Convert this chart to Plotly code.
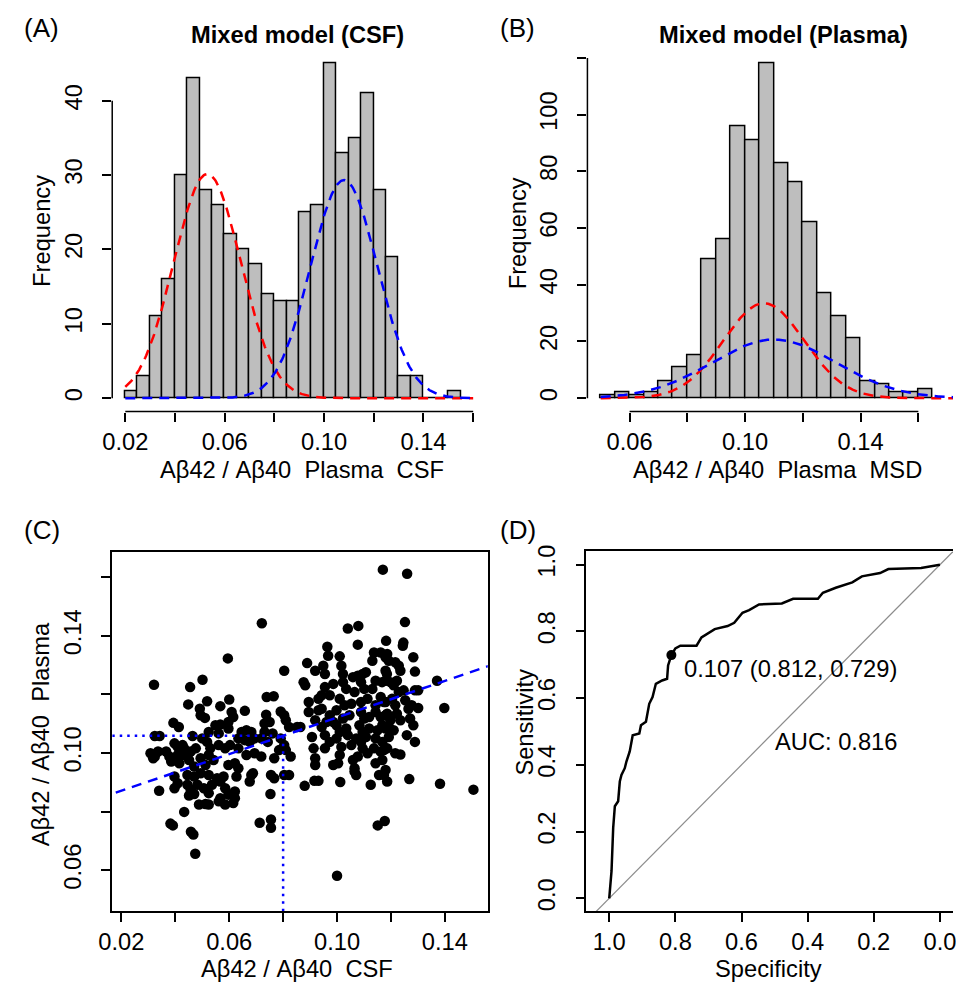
import numpy as np
import plotly.graph_objects as go

W, H = 956, 982
FONT = "Liberation Sans, Arial, Helvetica, sans-serif"
BAR_FILL = "#BEBEBE"
FS = 23.7

# ---------------- (A) CSF ratio histogram + two-component mixture ----------------
bin_width = 0.005
csf_bin_start = 0.02
csf_counts = [1, 3, 11, 16, 30, 43, 28, 26, 22, 20, 18, 14, 13, 13,
              25, 26, 45, 33, 35, 41, 28, 19, 3, 3, 0, 0, 1]
csf_comp_mean = [0.053, 0.108]      # red (low), blue (high)
csf_comp_sd = [0.0135, 0.0134]
csf_comp_n = [204, 197]

# ---------------- (B) plasma ratio histogram + mixture ----------------
plasma_bin_start = 0.05
plasma_counts = [1, 2, 1, 2, 6, 11, 15, 49, 56, 96, 91, 118, 83, 76,
                 62, 37, 29, 21, 6, 5, 2, 2, 3]
plasma_comp_mean = [0.1065, 0.110]
plasma_comp_sd = [0.0140, 0.0215]
plasma_comp_n = [235, 223]

# ---------------- (C) CSF vs plasma scatter ----------------
csf_ratio = [
    0.117, 0.126, 0.0721, 0.1252, 0.104, 0.1079, 0.1182, 0.1246, 0.1244, 0.0964,
    0.1077, 0.0595, 0.0321, 0.0804, 0.0501, 0.0455, 0.1371, 0.1398, 0.1382, 0.1506,
    0.100, 0.1151, 0.1177, 0.0474, 0.0458, 0.0467, 0.0382, 0.0391, 0.0433, 0.0713,
    0.0755, 0.0755, 0.0753, 0.088, 0.0916, 0.0931, 0.1012, 0.1268, 0.034,
    0.0448, 0.0518, 0.0491, 0.0494, 0.051, 0.0393, 0.0413, 0.0324, 0.0342, 0.0464,
    0.050, 0.0397, 0.0409, 0.0427, 0.0308, 0.0318, 0.0336, 0.0366, 0.0378, 0.0324,
    0.0409, 0.0433, 0.0457, 0.0451, 0.0476, 0.0433, 0.0385, 0.0415, 0.0494, 0.0512,
    0.047, 0.0397, 0.0445, 0.047, 0.0494, 0.0397, 0.0409, 0.0445, 0.0457, 0.0482,
    0.0506, 0.0451, 0.047, 0.0488, 0.0512,
    0.0567, 0.060, 0.0609, 0.0615, 0.0597, 0.0658, 0.0739, 0.0765, 0.0737, 0.0791,
    0.0804, 0.075, 0.0549, 0.0567, 0.0731, 0.081, 0.0822, 0.0864, 0.0524, 0.0561,
    0.0597, 0.0646, 0.0664, 0.0682, 0.0634, 0.0658, 0.0676, 0.0694, 0.0731, 0.0761,
    0.0719, 0.0743, 0.0791, 0.0804, 0.081, 0.0785, 0.0518, 0.053, 0.0561, 0.0585,
    0.0603, 0.0634, 0.0664, 0.0694, 0.0719, 0.0767, 0.0828, 0.0524, 0.0542, 0.0597,
    0.0621, 0.0634, 0.0524, 0.0555, 0.0579, 0.0627, 0.0682, 0.0676, 0.0688, 0.0755,
    0.0767, 0.0804, 0.0822, 0.0536, 0.0567, 0.0585, 0.0621, 0.0524, 0.0567, 0.0597,
    0.0621, 0.0585, 0.0615, 0.0524, 0.0561,
    0.0967, 0.101, 0.0889, 0.0919, 0.0949, 0.0955, 0.1016, 0.1022, 0.1059, 0.1095,
    0.1137, 0.1131, 0.1162, 0.118, 0.0876, 0.0882, 0.0986, 0.1022, 0.1077, 0.1089,
    0.1107, 0.1143, 0.1167, 0.1185, 0.0955, 0.0943, 0.0973, 0.1034, 0.1065, 0.1101,
    0.1131, 0.0895, 0.0931, 0.0943, 0.101, 0.1028, 0.0998, 0.1053, 0.1089, 0.1113,
    0.1162, 0.118, 0.1143, 0.0895, 0.0931, 0.0973, 0.1022, 0.0986, 0.1046, 0.1089,
    0.1101, 0.1119, 0.1143, 0.1162, 0.1186, 0.0919, 0.0943, 0.0961, 0.0998, 0.1034,
    0.101, 0.1083, 0.1095, 0.1119, 0.115, 0.1168, 0.1192, 0.0907, 0.0955, 0.0973,
    0.0998, 0.104, 0.1071, 0.1089, 0.1107, 0.1143, 0.1168, 0.1192, 0.0913, 0.0955,
    0.1016, 0.1053, 0.1095, 0.1113, 0.1137, 0.1162, 0.1186, 0.0919, 0.0919, 0.1004,
    0.101, 0.1059, 0.1065, 0.1077, 0.1143, 0.1168, 0.1174, 0.1156, 0.1125, 0.1186,
    0.0852, 0.1065, 0.1071, 0.0986,
    0.1186, 0.1192, 0.1216, 0.1229, 0.1235, 0.1283, 0.1289, 0.118, 0.118, 0.1198,
    0.121, 0.1222, 0.1289, 0.1301, 0.1174, 0.1204, 0.1229, 0.1247, 0.1216, 0.1253,
    0.1265, 0.1277, 0.1301, 0.118, 0.1198, 0.1222, 0.1235, 0.1271, 0.1283, 0.118,
    0.121, 0.1259, 0.1289, 0.1174, 0.1216, 0.1235, 0.118,
]
plasma_ratio = [
    0.1626, 0.1612, 0.1443, 0.1447, 0.1425, 0.1434, 0.1383, 0.1377, 0.1366, 0.1363,
    0.137, 0.1323, 0.1233, 0.1281, 0.125, 0.1225, 0.1247, 0.1154, 0.0895, 0.0875,
    0.0581, 0.0753, 0.0768, 0.0656, 0.0731, 0.0722, 0.0759, 0.0753, 0.0799, 0.0762,
    0.0773, 0.0745, 0.086, 0.0888, 0.0905, 0.0905, 0.0901, 0.0911, 0.0871,
    0.1166, 0.1177, 0.1151, 0.1129, 0.112, 0.1103, 0.1089, 0.1058, 0.1058, 0.1058,
    0.105, 0.1033, 0.1021, 0.1027, 0.0999, 0.0982, 0.1005, 0.1005, 0.0988, 0.0988,
    0.0993, 0.0993, 0.1005, 0.0976, 0.1016, 0.1016, 0.0971, 0.0965, 0.0982, 0.0959,
    0.0954, 0.092, 0.0925, 0.092, 0.0931, 0.088, 0.0897, 0.0892, 0.0875, 0.0892,
    0.088, 0.0855, 0.086, 0.0824, 0.0826,
    0.116, 0.1183, 0.114, 0.1123, 0.1106, 0.1144, 0.1191, 0.1194, 0.1131, 0.1142,
    0.1129, 0.1106, 0.1095, 0.1097, 0.1101, 0.1112, 0.1089, 0.1089, 0.1072, 0.1067,
    0.1084, 0.1072, 0.1078, 0.1072, 0.105, 0.1044, 0.1038, 0.105, 0.1072, 0.1067,
    0.105, 0.1038, 0.105, 0.1027, 0.101, 0.101, 0.1038, 0.1016, 0.1027, 0.1016,
    0.1027, 0.1016, 0.0993, 0.0999, 0.0988, 0.0982, 0.0988, 0.0993, 0.0976, 0.0959,
    0.0965, 0.0948, 0.0925, 0.0914, 0.092, 0.092, 0.0925, 0.0903, 0.0931, 0.0925,
    0.0914, 0.0925, 0.0925, 0.0892, 0.0903, 0.088, 0.0869, 0.0863, 0.0846, 0.0858,
    0.0846, 0.0824, 0.0829, 0.0824, 0.0835,
    0.1332, 0.133, 0.1307, 0.1281, 0.1298, 0.127, 0.1298, 0.127, 0.1259, 0.127,
    0.1343, 0.1315, 0.1343, 0.1327, 0.1242, 0.1231, 0.1236, 0.1242, 0.1264, 0.1242,
    0.1276, 0.1247, 0.1242, 0.127, 0.1225, 0.1197, 0.1197, 0.1219, 0.1208, 0.1219,
    0.1219, 0.1174, 0.1185, 0.1151, 0.1185, 0.1163, 0.1146, 0.1168, 0.1174, 0.1185,
    0.1191, 0.1174, 0.1163, 0.114, 0.1146, 0.1129, 0.1118, 0.1106, 0.1129, 0.114,
    0.1118, 0.1123, 0.114, 0.1123, 0.1134, 0.1112, 0.1089, 0.1106, 0.1095, 0.1084,
    0.1072, 0.1095, 0.1072, 0.1084, 0.1078, 0.1095, 0.1089, 0.1055, 0.1061, 0.1038,
    0.105, 0.1061, 0.105, 0.1038, 0.1055, 0.105, 0.1038, 0.1055, 0.1016, 0.1016,
    0.1021, 0.1027, 0.1016, 0.0999, 0.1016, 0.1005, 0.1016, 0.0959, 0.0982, 0.0965,
    0.0993, 0.0976, 0.0948, 0.0988, 0.0965, 0.0976, 0.0925, 0.0925, 0.0892, 0.0903,
    0.1089, 0.0937, 0.0925, 0.0959,
    0.1338, 0.1315, 0.131, 0.1298, 0.1281, 0.1327, 0.1278, 0.1281, 0.1247, 0.1242,
    0.1231, 0.1247, 0.1214, 0.1214, 0.1174, 0.1185, 0.1208, 0.1214, 0.1163, 0.118,
    0.1151, 0.1163, 0.1154, 0.1129, 0.1112, 0.1134, 0.1112, 0.1118, 0.1095, 0.1084,
    0.1078, 0.1061, 0.1038, 0.101, 0.0999, 0.0995, 0.0942,
]
reg_intercept = 0.0809
reg_slope = 0.3123
csf_cutoff = 0.08

# ---------------- (D) ROC curve ----------------
specificity = [1.0, 0.993, 0.988, 0.983, 0.973, 0.968, 0.963, 0.953, 0.948, 0.938,
               0.929, 0.909, 0.904, 0.889, 0.879, 0.869, 0.859, 0.840, 0.825, 0.822,
               0.812, 0.800, 0.785, 0.736, 0.721, 0.701, 0.681, 0.642, 0.622, 0.597,
               0.577, 0.547, 0.478, 0.444, 0.369, 0.354, 0.315, 0.265, 0.236, 0.181,
               0.156, 0.057, 0.028, 0.0]
sensitivity = [0.0, 0.082, 0.211, 0.276, 0.291, 0.350, 0.370, 0.390, 0.410, 0.440,
               0.489, 0.494, 0.519, 0.529, 0.583, 0.603, 0.643, 0.653, 0.658, 0.698,
               0.729, 0.749, 0.757, 0.757, 0.782, 0.794, 0.807, 0.816, 0.826, 0.856,
               0.864, 0.881, 0.884, 0.898, 0.898, 0.916, 0.931, 0.947, 0.965, 0.975,
               0.987, 0.990, 0.995, 1.0]
best_threshold = 0.107
best_spec = 0.812
best_sens = 0.729
auc_value = 0.816


def px_x(px):
    return px / W


def px_y(py):
    return 1 - py / H


def mixture_curve(means, sds, ns, lo, hi):
    xs = np.linspace(lo, hi, 400)
    curves = []
    for m, s, n in zip(means, sds, ns):
        dens = np.exp(-0.5 * ((xs - m) / s) ** 2) / (s * np.sqrt(2 * np.pi))
        curves.append(n * bin_width * dens)
    return xs, curves


DASH = "10px,7px"
DOT = "2.5px,5px"
fig = go.Figure()

# (A) histogram
csf_centers = [csf_bin_start + bin_width * (i + 0.5) for i in range(len(csf_counts))]
fig.add_trace(go.Bar(x=csf_centers, y=csf_counts, width=bin_width,
                     marker=dict(color=BAR_FILL, line=dict(color="black", width=1.5)),
                     xaxis="x", yaxis="y", showlegend=False))
xs, (red_a, blue_a) = mixture_curve(csf_comp_mean, csf_comp_sd, csf_comp_n, 0.02, 0.16)
fig.add_trace(go.Scatter(x=xs, y=red_a, mode="lines", line=dict(color="red", width=2.5, dash=DASH),
                         xaxis="x", yaxis="y", showlegend=False))
fig.add_trace(go.Scatter(x=xs, y=blue_a, mode="lines", line=dict(color="blue", width=2.5, dash=DASH),
                         xaxis="x", yaxis="y", showlegend=False))

# (B) histogram
pl_centers = [plasma_bin_start + bin_width * (i + 0.5) for i in range(len(plasma_counts))]
fig.add_trace(go.Bar(x=pl_centers, y=plasma_counts, width=bin_width,
                     marker=dict(color=BAR_FILL, line=dict(color="black", width=1.5)),
                     xaxis="x2", yaxis="y2", showlegend=False))
xs, (red_b, blue_b) = mixture_curve(plasma_comp_mean, plasma_comp_sd, plasma_comp_n, 0.05, 0.175)
fig.add_trace(go.Scatter(x=xs, y=red_b, mode="lines", line=dict(color="red", width=2.5, dash=DASH),
                         xaxis="x2", yaxis="y2", showlegend=False))
fig.add_trace(go.Scatter(x=xs, y=blue_b, mode="lines", line=dict(color="blue", width=2.5, dash=DASH),
                         xaxis="x2", yaxis="y2", showlegend=False))

# (C) scatter with regression and cut-off lines
C_XR = [0.0166, 0.1559]
C_YR = [0.046, 0.1687]
fig.add_trace(go.Scatter(x=csf_ratio, y=plasma_ratio, mode="markers",
                         marker=dict(color="black", size=10.5),
                         xaxis="x3", yaxis="y3", showlegend=False))
reg_x = [0.0, 0.2]
fig.add_trace(go.Scatter(x=reg_x, y=[reg_intercept + reg_slope * v for v in reg_x], mode="lines",
                         line=dict(color="blue", width=2.5, dash=DASH),
                         xaxis="x3", yaxis="y3", showlegend=False))
plasma_cutoff = reg_intercept + reg_slope * csf_cutoff
fig.add_trace(go.Scatter(x=[C_XR[0], csf_cutoff], y=[plasma_cutoff, plasma_cutoff], mode="lines",
                         line=dict(color="blue", width=2.5, dash=DOT),
                         xaxis="x3", yaxis="y3", showlegend=False))
fig.add_trace(go.Scatter(x=[csf_cutoff, csf_cutoff], y=[C_YR[0], plasma_cutoff], mode="lines",
                         line=dict(color="blue", width=2.5, dash=DOT),
                         xaxis="x3", yaxis="y3", showlegend=False))

# (D) ROC
fig.add_trace(go.Scatter(x=[1.2, -0.2], y=[-0.2, 1.2], mode="lines",
                         line=dict(color="#8C8C8C", width=1.2),
                         xaxis="x4", yaxis="y4", showlegend=False))
fig.add_trace(go.Scatter(x=specificity, y=sensitivity, mode="lines",
                         line=dict(color="black", width=2.5),
                         xaxis="x4", yaxis="y4", showlegend=False))
fig.add_trace(go.Scatter(x=[best_spec], y=[best_sens], mode="markers",
                         marker=dict(color="black", size=10),
                         xaxis="x4", yaxis="y4", showlegend=False))

TICKFONT = dict(family=FONT, size=FS, color="black")


def axis(domain_px, rng, tickvals, ticktext, horizontal, **kw):
    if horizontal:
        dom = [px_x(domain_px[0]), px_x(domain_px[1])]
    else:
        dom = [px_y(domain_px[1]), px_y(domain_px[0])]
    d = dict(domain=dom, range=rng, tickmode="array", tickvals=tickvals, ticktext=ticktext,
             ticks="outside", ticklen=9, tickwidth=1.5, tickcolor="black",
             tickfont=TICKFONT, showgrid=False, zeroline=False, showline=False,
             fixedrange=True, ticklabeloverflow="allow")
    if horizontal:
        d["ticklabelstandoff"] = 0
    else:
        d["tickangle"] = -90
        d["ticklabelstandoff"] = 11
    d.update(kw)
    return d


def fmt(v, nd=2):
    return f"{v:.{nd}f}"


layout = dict(
    width=W, height=H, margin=dict(l=0, r=0, t=0, b=0),
    paper_bgcolor="white", plot_bgcolor="white", bargap=0,
    font=dict(family=FONT, color="black"),
)

# Panel A axes
a_xt = [0.02, 0.04, 0.06, 0.08, 0.10, 0.12, 0.14, 0.16]
layout["xaxis"] = axis([100, 468.5], [0.01474, 0.1604], a_xt,
                       [fmt(v) if i % 2 == 0 else "" for i, v in enumerate(a_xt)], True,
                       anchor="y")
layout["yaxis"] = axis([43.5, 407.5], [-1.8, 46.8], [0, 10, 20, 30, 40],
                       ["0", "10", "20", "30", "40"], False, anchor="x")
# Panel B axes
b_xt = [0.06, 0.08, 0.10, 0.12, 0.14, 0.16]
layout["xaxis2"] = axis([583.8, 956], [0.0454, 0.172], b_xt,
                        [fmt(v) if i % 2 == 0 else "" for i, v in enumerate(b_xt)], True,
                        anchor="y2")
layout["yaxis2"] = axis([43.6, 407.5], [-4.73, 122.7], [0, 20, 40, 60, 80, 100, 120],
                        ["0", "20", "40", "60", "80", "100", ""], False, anchor="x2")
# Panel C axes (boxed)
c_xt = [0.02, 0.04, 0.06, 0.08, 0.10, 0.12, 0.14]
c_yt = [0.06, 0.08, 0.10, 0.12, 0.14, 0.16]
layout["xaxis3"] = axis([100, 482.3], C_XR, c_xt,
                        [fmt(v) if i % 2 == 0 else "" for i, v in enumerate(c_xt)], True,
                        anchor="y3", showline=True, mirror=True, linecolor="black",
                        linewidth=1.5)
layout["yaxis3"] = axis([548.7, 910.7], C_YR, c_yt,
                        [fmt(v) if i % 2 == 0 else "" for i, v in enumerate(c_yt)], False,
                        anchor="x3", showline=True, mirror=True, linecolor="black",
                        linewidth=1.5)
# Panel D axes (box runs off the right page edge)
d_t = [0.0, 0.2, 0.4, 0.6, 0.8, 1.0]
layout["xaxis4"] = axis([582.7, 956], [1.0692, -0.0395], d_t, [fmt(v, 1) for v in d_t], True,
                        anchor="y4", showline=True, mirror=True, linecolor="black",
                        linewidth=1.5)
layout["yaxis4"] = axis([548.3, 910.7], [-0.0387, 1.0399], d_t, [fmt(v, 1) for v in d_t], False,
                        anchor="x4", showline=True, linecolor="black", linewidth=1.5)

# Detached R-style axis lines for the histograms (span first to last tick)
shapes = [
    dict(type="line", xref="x", yref="y domain", x0=a_xt[0], x1=a_xt[-1], y0=0, y1=0,
         line=dict(color="black", width=1.5)),
    dict(type="line", xref="x domain", yref="y", x0=0, x1=0, y0=0, y1=40,
         line=dict(color="black", width=1.5)),
    dict(type="line", xref="x2", yref="y2 domain", x0=b_xt[0], x1=b_xt[-1], y0=0, y1=0,
         line=dict(color="black", width=1.5)),
    dict(type="line", xref="x2 domain", yref="y2", x0=0, x1=0, y0=0, y1=120,
         line=dict(color="black", width=1.5)),
]
layout["shapes"] = shapes

LAB = dict(family=FONT, size=FS, color="black")


def text(px, py, s, size=FS, bold=False, angle=0, xanchor="center"):
    return dict(x=px_x(px), y=px_y(py), xref="paper", yref="paper", text=s,
                showarrow=False, textangle=angle, xanchor=xanchor, yanchor="middle",
                font=dict(family=FONT, size=size, color="black",
                          weight="bold" if bold else "normal"))


annotations = [
    text(28, 21, "(A)", size=26),
    text(513, 21, "(B)", size=26),
    text(28, 527, "(C)", size=26),
    text(513, 527, "(D)", size=26),
    text(289, 28, "Mixed model (CSF)", size=FS, bold=True),
    text(783, 28, "Mixed model (Plasma)", size=FS, bold=True),
    text(293, 466, "Aβ42 / Aβ40  Plasma  CSF"),
    text(777, 466, "Aβ42 / Aβ40  Plasma  MSD"),
    text(29, 225, "Frequency", angle=-90),
    text(514, 228, "Frequency", angle=-90),
    text(288, 969, "Aβ42 / Aβ40  CSF"),
    text(27, 733, "Aβ42 / Aβ40  Plasma", angle=-90),
    text(768, 969, "Specificity"),
    text(520, 720, "Sensitivity", angle=-90),
    dict(x=0.780, y=0.6875, xref="x4", yref="y4",
         text=f"{best_threshold:.3f} ({best_spec:.3f}, {best_sens:.3f})",
         showarrow=False, xanchor="left", yanchor="middle", font=LAB),
    dict(x=0.504, y=0.469, xref="x4", yref="y4", text=f"AUC: {auc_value:.3f}",
         showarrow=False, xanchor="left", yanchor="middle", font=LAB),
]
layout["annotations"] = annotations

fig.update_layout(**layout)
fig.write_html("out.html")
